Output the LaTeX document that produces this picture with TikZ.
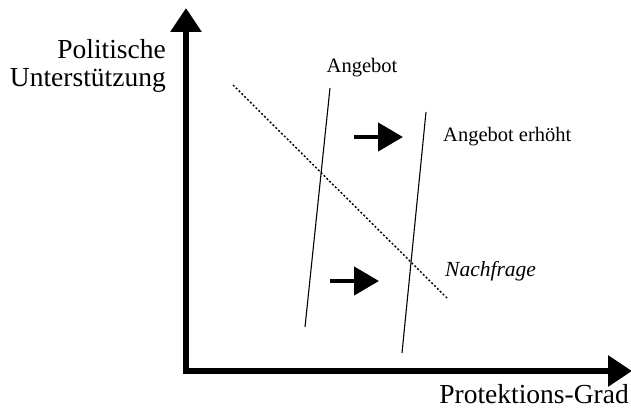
\documentclass[tikz,border=0pt]{standalone}
\usepackage{fontspec}
\setmainfont{Liberation Serif}
\usetikzlibrary{arrows.meta}
\begin{document}
\begin{tikzpicture}[x=1pt,y=-1pt,
  axis/.style={line width=6pt,-{Triangle[length=24pt,width=30pt]}},
  curve/.style={line width=1.1pt},
  demand/.style={line width=1.4pt,dash pattern=on 2pt off 2pt},
  shift arrow/.style={line width=4.5pt,-{Triangle[length=25pt,width=28pt]}},
  biglabel/.style={font=\fontsize{27.5}{30}\selectfont,inner sep=0pt},
  smalllabel/.style={font=\fontsize{20.5}{23}\selectfont,inner sep=0pt}]
\useasboundingbox (0,0) rectangle (631,409);
% axes
\coordinate (O) at (186,372);
\coordinate (ytip) at (186,8);
\coordinate (xstart) at (183,371);
\coordinate (xtip) at (632,371);
\draw[axis] (O) -- (ytip);
\draw[axis] (xstart) -- (xtip);
% supply curves
\coordinate (s1a) at (330,88);
\coordinate (s1b) at (305,327);
\coordinate (s2a) at (426,112);
\coordinate (s2b) at (402,353);
\draw[curve] (s1a) -- (s1b);
\draw[curve] (s2a) -- (s2b);
% demand
\coordinate (d1) at (233,85);
\coordinate (d2) at (447,298);
\draw[demand] (d1) -- (d2);
% shift arrows
\coordinate (a1s) at (354,137);
\coordinate (a1e) at (403,137);
\coordinate (a2s) at (330,281);
\coordinate (a2e) at (379,281);
\draw[shift arrow] (a1s) -- (a1e);
\draw[shift arrow] (a2s) -- (a2e);
% labels
\node[biglabel,anchor=base east] (pol) at (166,59) {Politische};
\node[biglabel,anchor=base east] (unt) at (166,87) {Unterstützung};
\node[biglabel,anchor=base east] (prot) at (629,403) {Protektions-Grad};
\node[smalllabel,anchor=base] (ang) at (362,73) {Angebot};
\node[smalllabel,anchor=base west] (ange) at (443,141) {Angebot erhöht};
\node[smalllabel,anchor=base west,font=\fontsize{21.5}{23}\selectfont\itshape] (nach) at (445,276) {Nachfrage};
\end{tikzpicture}
\end{document}
